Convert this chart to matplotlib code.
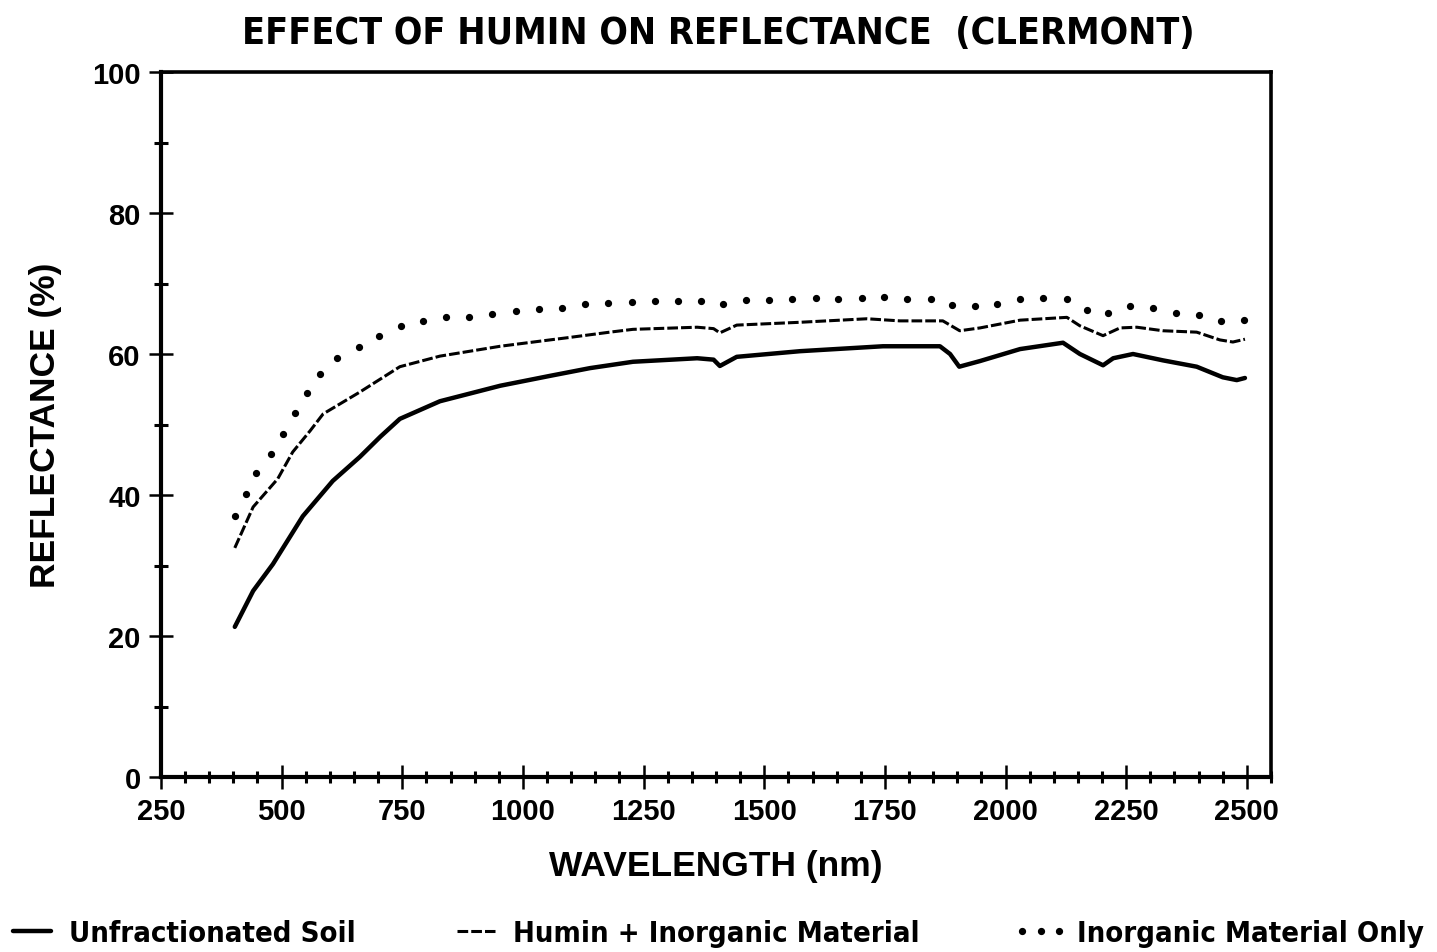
import matplotlib
matplotlib.use("Agg")
from matplotlib import pyplot as plt
from matplotlib.ticker import MultipleLocator
from matplotlib import font_manager
import numpy as np

# curvas (longitud de onda en nm, reflectancia en %)
suelo_x = [403, 441, 482, 544, 606, 662, 705, 745, 828, 953, 1056, 1139, 1228,
           1361, 1395, 1408, 1443, 1574, 1746, 1864, 1885, 1904, 1947, 2030,
           2119, 2154, 2202, 2223, 2264, 2326, 2396, 2450, 2479, 2496]
suelo_y = [21.3, 26.4, 30.2, 37.0, 42.0, 45.4, 48.3, 50.8, 53.3, 55.5, 56.9,
           58.0, 58.9, 59.4, 59.2, 58.3, 59.6, 60.4, 61.1, 61.1, 60.0, 58.2,
           59.0, 60.7, 61.6, 60.0, 58.4, 59.4, 60.0, 59.1, 58.2, 56.7, 56.3, 56.6]

humina_x = [403, 441, 492, 523, 559, 586, 662, 745, 828, 953, 1056, 1091, 1180,
            1228, 1361, 1395, 1408, 1443, 1574, 1713, 1781, 1870, 1905, 1947,
            2030, 2127, 2154, 2202, 2237, 2272, 2326, 2396, 2444, 2471, 2496]
humina_y = [32.5, 38.3, 42.3, 46.1, 49.1, 51.5, 54.6, 58.2, 59.7, 61.1, 62.0,
            62.3, 63.1, 63.5, 63.8, 63.6, 63.0, 64.1, 64.5, 65.0, 64.7, 64.7,
            63.3, 63.7, 64.8, 65.2, 64.0, 62.6, 63.7, 63.8, 63.3, 63.1, 62.0,
            61.7, 62.1]

inorg_x = [403, 426, 447, 478, 503, 528, 553, 579, 615, 660, 702, 747, 793, 840,
           888, 936, 986, 1033, 1081, 1129, 1176, 1226, 1274, 1321, 1369, 1414,
           1462, 1510, 1557, 1607, 1653, 1702, 1748, 1796, 1845, 1889, 1937,
           1982, 2030, 2077, 2127, 2169, 2212, 2258, 2305, 2353, 2401, 2446, 2494]
inorg_y = [37.0, 40.1, 43.1, 45.8, 48.7, 51.6, 54.5, 57.2, 59.4, 61.0, 62.6,
           64.0, 64.7, 65.2, 65.2, 65.7, 66.1, 66.4, 66.5, 67.1, 67.2, 67.4,
           67.5, 67.5, 67.5, 67.1, 67.7, 67.7, 67.8, 67.9, 67.8, 67.9, 68.1,
           67.8, 67.8, 67.0, 66.8, 67.1, 67.8, 67.9, 67.8, 66.2, 65.8, 66.8,
           66.5, 65.8, 65.5, 64.7, 64.8]

etiquetas = ["Unfractionated Soil", "Humin + Inorganic Material",
             "Inorganic Material Only"]

fuente = ["Liberation Sans", "DejaVu Sans"]

# fuente angosta si existe (DejaVu Sans Condensed), si no la normal
hay_condensada = any("Condensed" in f.fname or f.stretch == "condensed"
                     for f in font_manager.fontManager.ttflist
                     if f.name == "DejaVu Sans")

fig = plt.figure(figsize=(14.37, 9.53), dpi=100)
ax = fig.add_axes([0.1120, 0.1836, 0.7725, 0.7398])

ax.plot(suelo_x, suelo_y, color="black", lw=3.2, solid_capstyle="round",
        solid_joinstyle="round", label=etiquetas[0])
ax.plot(humina_x, humina_y, color="black", lw=2.2, ls=(0, (3.5, 1.0)),
        label=etiquetas[1])
ax.plot(inorg_x, inorg_y, color="black", ls="none", marker="o", ms=4.2,
        label=etiquetas[2])

ax.set_xlim(250, 2550)
ax.set_ylim(0, 100)
ax.xaxis.set_minor_locator(MultipleLocator(50))
ax.yaxis.set_major_locator(MultipleLocator(20))
ax.yaxis.set_minor_locator(MultipleLocator(10))
ax.set_xticks(np.arange(250, 2501, 250))

for lado in ["left", "bottom"]:
    ax.spines[lado].set_linewidth(3.0)
for lado in ["top", "right"]:
    ax.spines[lado].set_linewidth(2.6)

ax.tick_params(which="major", direction="inout", length=17, width=1.8,
               pad=6, labelsize=21)
ax.tick_params(which="minor", direction="inout", length=8.5, width=2.2)
ax.tick_params(axis="y", which="minor", length=10)
for lbl in ax.get_xticklabels() + ax.get_yticklabels():
    lbl.set_family(fuente)
    lbl.set_fontweight("bold")

ax.set_xlabel("WAVELENGTH (nm)", family=fuente, fontweight="bold",
              fontsize=25.5, labelpad=17)
ax.set_ylabel("REFLECTANCE (%)", family=fuente, fontweight="bold",
              fontsize=25.5, labelpad=22)

if hay_condensada:
    estilo = {"family": "DejaVu Sans", "stretch": "condensed",
              "weight": "bold"}
    t_size, l_size = 27, 21
else:
    estilo = {"family": fuente, "weight": "bold"}
    t_size, l_size = 25, 20

fig.suptitle("EFFECT OF HUMIN ON REFLECTANCE  (CLERMONT)", fontsize=t_size,
             y=0.983, **estilo)

fig.legend(loc="lower center", bbox_to_anchor=(0.497, -0.016), ncol=3,
           frameon=False, numpoints=3, handlelength=1.9, handletextpad=0.3,
           columnspacing=3.2, borderpad=0.2, prop=dict(estilo, size=l_size))

fig.savefig("out.png", dpi=100, facecolor="white")
